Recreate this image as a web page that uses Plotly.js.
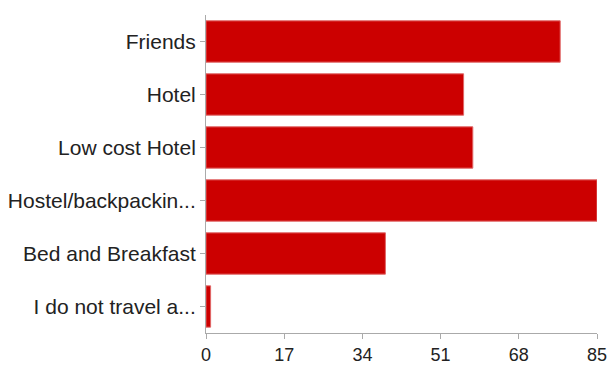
<!DOCTYPE html>
<html>
<head>
<meta charset="utf-8">
<script src="https://cdn.plot.ly/plotly-3.0.1.min.js"></script>
<style>html,body{margin:0;padding:0;background:#fff;}#chart{width:611px;height:365px;}</style>
</head>
<body>
<div id="chart"></div>
<script>
const categories = ["Friends", "Hotel", "Low cost Hotel", "Hostel/backpackin...", "Bed and Breakfast", "I do not travel a..."];
const counts = [77, 56, 58, 85, 39, 1];
const tickValues = [0, 17, 34, 51, 68, 85];

const trace = {
  type: "bar",
  orientation: "h",
  y: categories,
  x: counts,
  marker: {color: "#cc0000", line: {color: "#e06666", width: 1}},
  hoverinfo: "x+y"
};

const layout = {
  width: 611,
  height: 365,
  margin: {l: 206, r: 14, t: 15, b: 32, pad: 0},
  paper_bgcolor: "#ffffff",
  plot_bgcolor: "#ffffff",
  bargap: 0.22,
  showlegend: false,
  font: {family: "Liberation Sans, Arial, sans-serif", size: 21, color: "#222222"},
  xaxis: {
    range: [0, 85],
    tickvals: tickValues,
    ticktext: tickValues.map(String),
    showgrid: false,
    zeroline: false,
    showline: true,
    linecolor: "#aaaaaa",
    linewidth: 1,
    ticks: "outside",
    ticklen: 5,
    tickcolor: "#aaaaaa",
    tickfont: {size: 18, color: "#222222"},
    fixedrange: true
  },
  yaxis: {
    autorange: "reversed",
    showgrid: false,
    zeroline: false,
    showline: true,
    linecolor: "#aaaaaa",
    linewidth: 1,
    ticks: "outside",
    ticklen: 5,
    tickcolor: "#aaaaaa",
    tickfont: {size: 21, color: "#222222"},
    fixedrange: true
  }
};

Plotly.newPlot("chart", [trace], layout, {displayModeBar: false, staticPlot: true});
</script>
</body>
</html>
